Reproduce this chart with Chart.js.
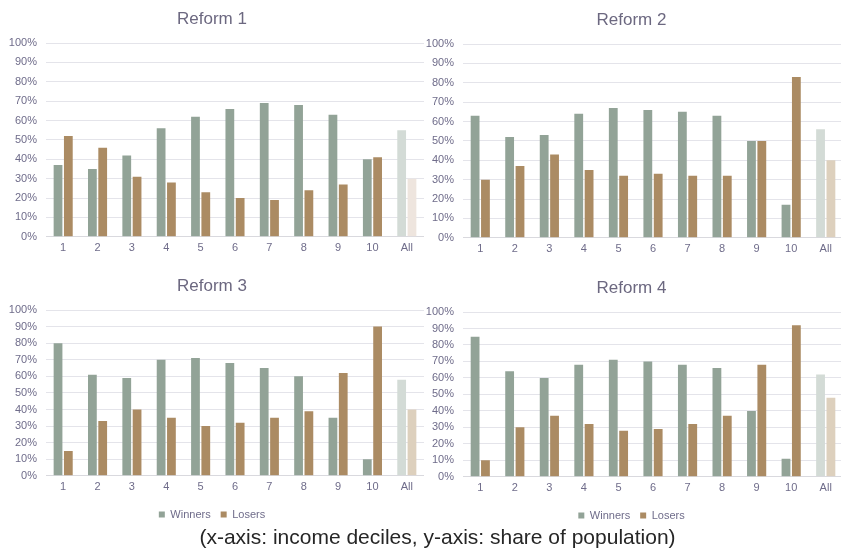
<!DOCTYPE html>
<html>
<head>
<meta charset="utf-8">
<script src="https://cdn.jsdelivr.net/npm/chart.js@4.4.1/dist/chart.umd.min.js"></script>
<style>
  html, body { margin: 0; padding: 0; background: #fff; overflow: hidden; }
  body { width: 841px; height: 551px; position: relative; }
  .box { position: absolute; }
  #note {
    position: absolute; left: 17px; width: 841px; top: 525px; text-align: center;
    font-family: "Liberation Sans", Arial, sans-serif; font-size: 21px; color: #262626;
  }
</style>
</head>
<body>
<div class="box" style="left:0;top:0;width:424px;height:260px"><canvas id="c1"></canvas></div>
<div class="box" style="left:420px;top:0;width:423px;height:261px"><canvas id="c2"></canvas></div>
<div class="box" style="left:0;top:262px;width:424px;height:268px"><canvas id="c3"></canvas></div>
<div class="box" style="left:420px;top:262px;width:423px;height:269px"><canvas id="c4"></canvas></div>
<div id="note">(x-axis: income deciles, y-axis: share of population)</div>
<script>
const deciles = ["1", "2", "3", "4", "5", "6", "7", "8", "9", "10", "All"];

const winners1 = [37, 35, 42, 56, 62, 66, 69, 68, 63, 40, 55];
const losers1 = [52, 46, 31, 28, 23, 20, 19, 24, 27, 41, 30];
const winners2 = [63, 52, 53, 64, 67, 66, 65, 63, 50, 17, 56];
const losers2 = [30, 37, 43, 35, 32, 33, 32, 32, 50, 83, 40];
const winners3 = [80, 61, 59, 70, 71, 68, 65, 60, 35, 10, 58];
const losers3 = [15, 33, 40, 35, 30, 32, 35, 39, 62, 90, 40];
const winners4 = [85, 64, 60, 68, 71, 70, 68, 66, 40, 11, 62];
const losers4 = [10, 30, 37, 32, 28, 29, 32, 37, 68, 92, 48];

const green = "#92a397";
const brown = "#ab8b63";
const greenAll = "#d3dbd6";
const brownAll = "#ddd0bd";
const brownAllPale = "#eee5de";
const tickColor = "#6f6c8a";
const font = "'Liberation Sans', Arial, sans-serif";

// last bar ("All") is drawn in a paler shade
const colorFn = (base, pale) => (ctx) =>
  ctx.dataIndex === deciles.length - 1 ? pale : base;

const makeChart = (id, title, winners, losers, opts) => {
  const data = {
    labels: deciles,
    datasets: [
      {
        label: "Winners",
        data: winners,
        backgroundColor: colorFn(green, greenAll),
        categoryPercentage: 0.6,
        barPercentage: 0.85,
      },
      {
        label: "Losers",
        data: losers,
        backgroundColor: colorFn(brown, opts.paleLosers || brownAll),
        categoryPercentage: 0.6,
        barPercentage: 0.85,
      },
    ],
  };
  const config = {
    type: "bar",
    data: data,
    options: {
      responsive: true,
      maintainAspectRatio: false,
      animation: false,
      layout: { padding: 0 },
      plugins: {
        title: {
          display: true,
          text: title,
          color: "#6c6880",
          font: { family: font, size: 17, weight: "normal" },
          padding: { top: opts.titleTop, bottom: 13.6 },
        },
        legend: {
          display: opts.legend,
          position: "bottom",
          labels: {
            boxWidth: 6,
            boxHeight: 6,
            padding: 10,
            color: tickColor,
            font: { family: font, size: 11 },
          },
        },
        tooltip: { enabled: false },
      },
      scales: {
        x: {
          grid: { display: false, drawTicks: false },
          border: { display: true, color: "#d9d9de" },
          ticks: { color: tickColor, font: { family: font, size: 11 }, padding: 5 },
        },
        y: {
          min: 0,
          max: 100,
          afterFit: (scale) => { scale.width = opts.axisWidth; },
          grid: { color: "#e4e4ea", drawTicks: false },
          border: { display: false },
          ticks: {
            stepSize: 10,
            autoSkip: false,
            color: tickColor,
            font: { family: font, size: 11 },
            padding: 9,
            callback: (v) => v + "%",
          },
        },
      },
    },
  };
  return new Chart(document.getElementById(id), config);
};

makeChart("c1", "Reform 1", winners1, losers1, { titleTop: 9, axisWidth: 46, legend: false, paleLosers: brownAllPale });
makeChart("c2", "Reform 2", winners2, losers2, { titleTop: 10, axisWidth: 43, legend: false });
makeChart("c3", "Reform 3", winners3, losers3, { titleTop: 14, axisWidth: 46, legend: true });
makeChart("c4", "Reform 4", winners4, losers4, { titleTop: 16, axisWidth: 43, legend: true });
</script>
</body>
</html>
